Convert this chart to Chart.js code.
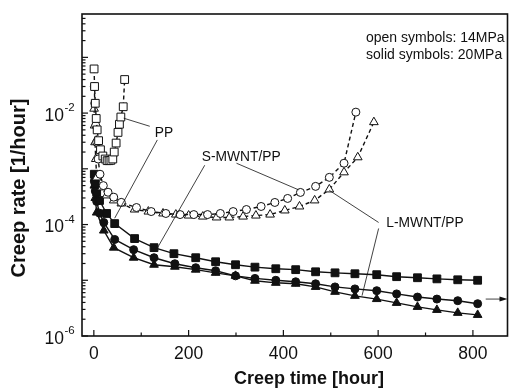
<!DOCTYPE html>
<html><head><meta charset="utf-8">
<script src="https://cdn.jsdelivr.net/npm/chart.js"></script>
<style>html,body{margin:0;padding:0;background:#fff}</style>
</head><body>
<canvas id="c" width="514" height="388"></canvas>
<script>
// ---- data (creep time [hour], creep rate [1/hour]) ----
const ppOpenX = [0.5, 1.5, 3, 5, 7, 10, 14, 19, 24, 28, 32, 36, 40, 43, 47, 51, 54, 57, 62, 65];
const ppOpenY = [0.062, 0.03, 0.015, 0.008, 0.005, 0.0032, 0.0022, 0.0017, 0.0015, 0.0014, 0.0014, 0.00142, 0.0015, 0.002, 0.0029, 0.0045, 0.0063, 0.0085, 0.013, 0.04];

const sOpenX = [1, 2, 4, 6, 9, 13, 20, 30, 42, 58, 90, 121, 152, 182, 211, 240, 267, 294, 322, 353, 382, 409, 436, 468, 497, 528, 553];
const sOpenY = [0.03, 0.015, 0.006, 0.003, 0.0015, 0.0008, 0.0005, 0.00038, 0.00031, 2.5e-4, 2.02e-4, 1.71e-4, 1.58e-4, 1.51e-4, 1.51e-4, 1.51e-4, 1.58e-4, 1.71e-4, 1.86e-4, 2.11e-4, 2.49e-4, 2.94e-4, 3.77e-4, 4.84e-4, 7.03e-4, 1.26e-3, 1.04e-2];

const lOpenX = [0.5, 1.5, 2.5, 4, 6, 17, 27, 42, 58, 86, 115, 146, 173, 200, 230, 259, 286, 315, 342, 372, 403, 434, 466, 497, 528, 557, 591];
const lOpenY = [0.012, 0.006, 0.003, 0.0015, 7.0e-4, 4.64e-4, 3.33e-4, 2.71e-4, 2.39e-4, 1.86e-4, 1.71e-4, 1.58e-4, 1.51e-4, 1.45e-4, 1.39e-4, 1.34e-4, 1.34e-4, 1.39e-4, 1.45e-4, 1.51e-4, 1.79e-4, 2.11e-4, 2.71e-4, 4.27e-4, 8.65e-4, 1.61e-3, 6.88e-3];

const ppSolidX = [1, 3, 6, 12, 27, 44, 86, 127, 169, 215, 257, 299, 340, 384, 426, 468, 509, 551, 597, 639, 683, 724, 768, 810];
const ppSolidY = [8e-4, 5.5e-4, 3.8e-4, 2.7e-4, 1.58e-4, 1.04e-4, 5.6e-5, 3.85e-5, 3.0e-5, 2.54e-5, 2.15e-5, 1.9e-5, 1.72e-5, 1.61e-5, 1.55e-5, 1.42e-5, 1.36e-5, 1.31e-5, 1.26e-5, 1.16e-5, 1.11e-5, 1.06e-5, 1.02e-5, 1.0e-5];

const sSolidX = [1, 3, 6, 12, 21, 44, 84, 127, 171, 215, 257, 299, 340, 384, 426, 468, 509, 551, 597, 639, 683, 724, 768, 810];
const sSolidY = [6e-4, 4e-4, 2.6e-4, 1.6e-4, 1.09e-4, 5.4e-5, 3.54e-5, 2.54e-5, 1.98e-5, 1.68e-5, 1.48e-5, 1.2e-5, 1.08e-5, 1.0e-5, 9.4e-6, 8.65e-6, 7.6e-6, 7.0e-6, 6.5e-6, 5.7e-6, 5.0e-6, 4.6e-6, 4.3e-6, 3.8e-6];

const lSolidX = [1, 3, 6, 21, 42, 84, 127, 171, 215, 257, 299, 340, 384, 426, 468, 509, 551, 597, 639, 683, 724, 768, 810];
const lSolidY = [5e-4, 3e-4, 1.64e-4, 7.8e-5, 3.85e-5, 2.54e-5, 1.9e-5, 1.75e-5, 1.55e-5, 1.36e-5, 1.2e-5, 9.8e-6, 9.0e-6, 8.65e-6, 7.6e-6, 6.2e-6, 5.25e-6, 4.6e-6, 3.93e-6, 3.33e-6, 2.94e-6, 2.6e-6, 2.39e-6];

// axis tick labels
const xTickLabels = [0, 200, 400, 600, 800];
const yLabelExps = [-6, -4, -2];

// annotations (data coordinates)
const labelTexts = ['PP', 'S-MWNT/PP', 'L-MWNT/PP'];
const labelAt = [[148, 4.36e-3], [311, 1.61e-3], [699, 1.04e-4]];
const leaders = [
  [63, 8.1e-3, 118, 5.8e-3],
  [134, 3.3e-3, 44, 1.3e-4],
  [301, 1.26e-3, 432, 4.2e-4],
  [234, 1.16e-3, 132, 3.54e-5],
  [601, 1.09e-4, 497, 4.1e-4],
  [601, 8.5e-5, 566, 5.3e-6]
];
const arrowSeg = [827, 4.6e-6, 873, 4.6e-6];
const noteLines = ['open symbols: 14MPa', 'solid symbols: 20MPa'];

const FONT = '"Liberation Sans", Arial, Helvetica, sans-serif';
const pts = (xs, ys) => xs.map((x, i) => ({x, y: ys[i]}));

function ds(xs, ys, style, open, r) {
  return {
    data: pts(xs, ys), showLine: true,
    borderColor: '#111', borderWidth: 1.4, borderDash: open ? [4, 3] : [],
    pointStyle: style, pointRadius: r, pointHoverRadius: r,
    pointBackgroundColor: open ? '#fff' : '#111', pointBorderColor: '#111', pointBorderWidth: 1,
    clip: false
  };
}

const overlay = {
  id: 'overlay',
  afterDraw(chart) {
    const c = chart.ctx, a = chart.chartArea, sx = chart.scales.x, sy = chart.scales.y;
    const X = v => sx.getPixelForValue(v), Y = v => sy.getPixelForValue(v);
    c.save();
    // frame
    c.strokeStyle = '#111'; c.lineWidth = 1.6;
    c.strokeRect(a.left, a.top, a.right - a.left, a.bottom - a.top);
    // x ticks (inward)
    c.lineWidth = 1.2;
    for (let v = 0; v <= 800; v += 100) {
      const len = v % 200 === 0 ? 6 : 3.5, px = X(v);
      c.beginPath(); c.moveTo(px, a.bottom); c.lineTo(px, a.bottom - len); c.stroke();
    }
    // y ticks (inward)
    for (let e = -6; e <= -1; e++) {
      for (let m = 1; m <= 9; m++) {
        const v = m * Math.pow(10, e);
        if (v > sy.max) continue;
        const py = Y(v), len = m === 1 ? 6 : 3.5;
        c.beginPath(); c.moveTo(a.left, py); c.lineTo(a.left + len, py); c.stroke();
      }
    }
    c.fillStyle = '#111'; c.textBaseline = 'middle';
    // x tick labels
    c.font = '17.5px ' + FONT; c.textAlign = 'center';
    xTickLabels.forEach(v => c.fillText(String(v), X(v), a.bottom + 18));
    // y tick labels
    yLabelExps.forEach(e => {
      const py = Y(Math.pow(10, e));
      c.font = '17.5px ' + FONT; c.textAlign = 'right';
      c.fillText('10', 64, py + 3);
      c.font = '11.5px ' + FONT; c.textAlign = 'left';
      c.fillText(String(e), 64.5, py - 5);
    });
    // axis titles
    c.font = 'bold 18px ' + FONT; c.textAlign = 'center';
    c.fillText('Creep time [hour]', 309, 379);
    c.save(); c.translate(19, 188); c.rotate(-Math.PI / 2);
    c.font = 'bold 20px ' + FONT;
    c.fillText('Creep rate [1/hour]', 0, 0); c.restore();
    // leaders
    c.lineWidth = 0.8; c.strokeStyle = '#111';
    leaders.forEach(l => { c.beginPath(); c.moveTo(X(l[0]), Y(l[1])); c.lineTo(X(l[2]), Y(l[3])); c.stroke(); });
    // arrow
    const ax0 = X(arrowSeg[0]), ay = Y(arrowSeg[1]), ax1 = X(arrowSeg[2]);
    c.beginPath(); c.moveTo(ax0, ay); c.lineTo(ax1 - 6, ay); c.stroke();
    c.beginPath(); c.moveTo(ax1, ay); c.lineTo(ax1 - 8, ay - 2.5); c.lineTo(ax1 - 8, ay + 2.5); c.closePath(); c.fill();
    // labels
    c.font = '13.8px ' + FONT; c.textAlign = 'center';
    labelTexts.forEach((t, i) => c.fillText(t, X(labelAt[i][0]), Y(labelAt[i][1])));
    // note
    c.font = '14px ' + FONT; c.textAlign = 'left';
    c.fillText(noteLines[0], 366, 38);
    c.fillText(noteLines[1], 366, 55);
    c.restore();
  }
};

new Chart(document.getElementById('c'), {
  type: 'scatter',
  data: { datasets: [
    ds(ppOpenX, ppOpenY, 'rect', true, 5.5),
    ds(sOpenX, sOpenY, 'circle', true, 4),
    ds(lOpenX, lOpenY, 'triangle', true, 5),
    ds(ppSolidX, ppSolidY, 'rect', false, 5.5),
    ds(sSolidX, sSolidY, 'circle', false, 4),
    ds(lSolidX, lSolidY, 'triangle', false, 5)
  ]},
  options: {
    responsive: false, animation: false, devicePixelRatio: 1,
    layout: { padding: { top: 14, right: 1, left: 0, bottom: 0 } },
    plugins: { legend: { display: false }, tooltip: { enabled: false } },
    scales: {
      x: { type: 'linear', min: -25, max: 873,
        grid: { display: false }, border: { display: false },
        ticks: { display: false, stepSize: 100 },
        afterFit(s) { s.height = 52; } },
      y: { type: 'logarithmic', min: 1e-6, max: 0.6,
        grid: { display: false }, border: { display: false },
        ticks: { display: false },
        afterFit(s) { s.width = 82; } }
    }
  },
  plugins: [overlay]
});
</script>
</body></html>
